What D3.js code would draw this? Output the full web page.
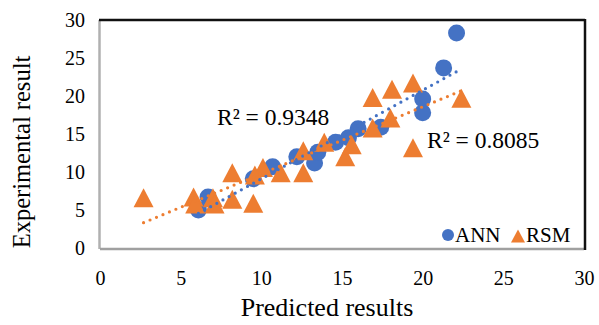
<!DOCTYPE html>
<html><head><meta charset="utf-8">
<script src="https://cdn.jsdelivr.net/npm/d3@7"></script>
<style>body{margin:0;background:#fff}svg{display:block}text{font-family:"Liberation Serif","Times New Roman",serif;fill:#000}</style>
</head><body><svg id="c" width="599" height="325"></svg>
<script>
const annX = [6.1, 6.7, 9.5, 10.7, 12.2, 13.3, 13.5, 14.6, 15.4, 16.0, 17.4, 20.0, 20.0, 21.3, 22.1];
const annY = [5.0, 6.7, 9.1, 10.7, 12.0, 11.2, 12.6, 13.9, 14.5, 15.7, 15.9, 19.6, 17.8, 23.7, 28.3];
const rsmX = [2.7, 5.8, 5.9, 7.0, 7.1, 8.2, 8.2, 9.5, 9.6, 10.1, 11.2, 12.6, 12.6, 13.9, 15.2, 15.6, 16.9, 16.9, 18.0, 18.1, 19.4, 19.4, 22.4];
const rsmY = [6.6, 6.7, 5.8, 6.6, 5.8, 9.9, 6.4, 5.9, 9.6, 10.6, 9.9, 12.8, 9.9, 13.9, 12.0, 13.6, 15.8, 19.8, 17.1, 20.9, 21.7, 13.2, 19.7];
const xTicks = [0, 5, 10, 15, 20, 25, 30];
const yTicks = [0, 5, 10, 15, 20, 25, 30];
const r2Labels = ["R² = 0.9348", "R² = 0.8085"];
const seriesNames = ["ANN", "RSM"];
const colors = ["#4472C4", "#ED7D31"];

const svg = d3.select("#c");
const L = 100, R = 584, T = 20, B = 248;
const x = d3.scaleLinear().domain([0, 30]).range([L, R]);
const y = d3.scaleLinear().domain([0, 30]).range([B, T]);

// frame
svg.append("line").attr("x1", L - 0.5).attr("x2", L - 0.5).attr("y1", T).attr("y2", B + 1).attr("stroke", "#b0b0b0").attr("stroke-width", 2.5);
svg.append("line").attr("x1", L).attr("x2", R).attr("y1", B + 1).attr("y2", B + 1).attr("stroke", "#a0a0a0").attr("stroke-width", 2.5);
svg.append("line").attr("x1", L - 1).attr("x2", R + 1).attr("y1", T).attr("y2", T).attr("stroke", "#111").attr("stroke-width", 2.5);
svg.append("line").attr("x1", R + 1).attr("x2", R + 1).attr("y1", T - 1).attr("y2", B + 2).attr("stroke", "#111").attr("stroke-width", 2.5);

// axes
const xa = svg.append("g").attr("transform", `translate(0,${B})`)
  .call(d3.axisBottom(x).tickValues(xTicks).tickSize(0).tickPadding(23));
const ya = svg.append("g").attr("transform", `translate(${L},0)`)
  .call(d3.axisLeft(y).tickValues(yTicks).tickSize(0).tickPadding(15));
[xa, ya].forEach(g => { g.select(".domain").remove(); g.selectAll("text").style("font-family", '"Liberation Serif",serif').style("font-size", "20px").attr("fill", "#000"); });

const ann = annX.map((v, i) => ({x: v, y: annY[i]}));
const rsm = rsmX.map((v, i) => ({x: v, y: rsmY[i]}));

svg.append("g").selectAll("circle").data(ann).join("circle")
  .attr("cx", d => x(d.x)).attr("cy", d => y(d.y)).attr("r", 8.5).attr("fill", colors[0]);
const tri = "M0,-9.5L10,9.5L-10,9.5Z";
svg.append("g").selectAll("path").data(rsm).join("path")
  .attr("d", tri).attr("transform", d => `translate(${x(d.x)},${y(d.y)})`).attr("fill", colors[1]);

function fit(pts) {
  const mx = d3.mean(pts, d => d.x), my = d3.mean(pts, d => d.y);
  const b = d3.sum(pts, d => (d.x - mx) * (d.y - my)) / d3.sum(pts, d => (d.x - mx) ** 2);
  const a = my - b * mx;
  const [x0, x1] = d3.extent(pts, d => d.x);
  return [{x: x0, y: a + b * x0}, {x: x1, y: a + b * x1}];
}
const line = d3.line().x(d => x(d.x)).y(d => y(d.y));
[[ann, colors[0]], [rsm, colors[1]]].forEach(([pts, c]) => {
  svg.append("path").attr("d", line(fit(pts))).attr("stroke", c).attr("stroke-width", 3.2)
    .attr("stroke-linecap", "round").attr("stroke-dasharray", "0 7").attr("fill", "none");
});

// R2 labels
svg.append("text").attr("x", 217).attr("y", 125).style("font-size", "23.5px").text(r2Labels[0]);
svg.append("text").attr("x", 427).attr("y", 148).style("font-size", "23.5px").text(r2Labels[1]);

// legend
svg.append("circle").attr("cx", 448).attr("cy", 235).attr("r", 6).attr("fill", colors[0]);
svg.append("text").attr("x", 455).attr("y", 242).style("font-size", "21px").text(seriesNames[0]);
svg.append("path").attr("d", "M0,-6.5L7,6.5L-7,6.5Z").attr("transform", "translate(518,236)").attr("fill", colors[1]);
svg.append("text").attr("x", 526).attr("y", 242).style("font-size", "21px").text(seriesNames[1]);

// axis titles
svg.append("text").attr("x", 327).attr("y", 316).attr("text-anchor", "middle").style("font-size", "26px").text("Predicted results");
svg.append("text").attr("transform", "translate(30,152) rotate(-90)").attr("text-anchor", "middle").style("font-size", "24.5px").text("Experimental result");
</script></body></html>
